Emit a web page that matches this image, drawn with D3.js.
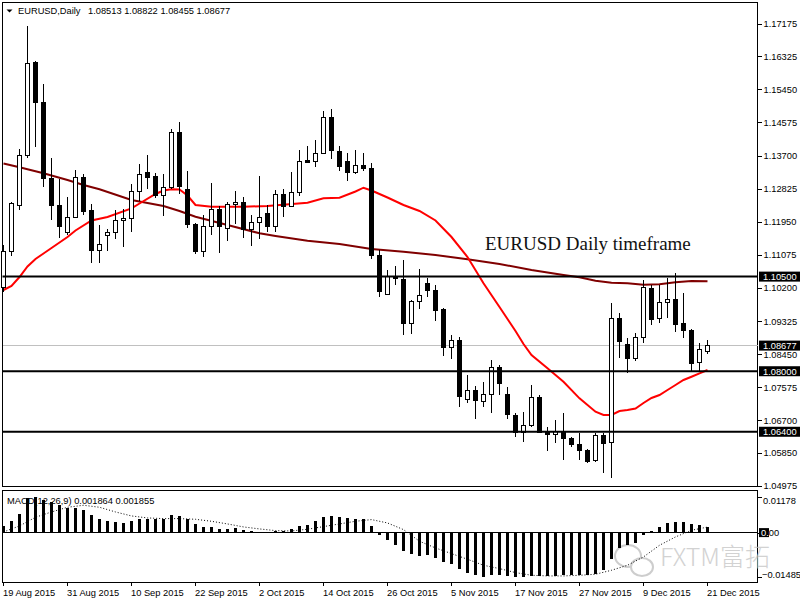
<!DOCTYPE html>
<html>
<head>
<meta charset="utf-8">
<script src="https://cdn.jsdelivr.net/npm/d3@7"></script>
<style>
body { margin: 0; background: #fff; }
svg { display: block; font-family: "Liberation Sans", Arial, sans-serif; }
</style>
</head>
<body>
<div id="chart"></div>
<script>
var tradingDays = [
  "19 Aug 2015","20 Aug 2015","21 Aug 2015","24 Aug 2015","25 Aug 2015","26 Aug 2015","27 Aug 2015","28 Aug 2015","31 Aug 2015",
  "1 Sep 2015","2 Sep 2015","3 Sep 2015","4 Sep 2015","7 Sep 2015","8 Sep 2015","9 Sep 2015","10 Sep 2015","11 Sep 2015",
  "14 Sep 2015","15 Sep 2015","16 Sep 2015","17 Sep 2015","18 Sep 2015","21 Sep 2015","22 Sep 2015","23 Sep 2015","24 Sep 2015",
  "25 Sep 2015","28 Sep 2015","29 Sep 2015","30 Sep 2015",
  "1 Oct 2015","2 Oct 2015","5 Oct 2015","6 Oct 2015","7 Oct 2015","8 Oct 2015","9 Oct 2015","12 Oct 2015","13 Oct 2015",
  "14 Oct 2015","15 Oct 2015","16 Oct 2015","19 Oct 2015","20 Oct 2015","21 Oct 2015","22 Oct 2015","23 Oct 2015","26 Oct 2015",
  "27 Oct 2015","28 Oct 2015","29 Oct 2015","30 Oct 2015",
  "2 Nov 2015","3 Nov 2015","4 Nov 2015","5 Nov 2015","6 Nov 2015","9 Nov 2015","10 Nov 2015","11 Nov 2015","12 Nov 2015",
  "13 Nov 2015","16 Nov 2015","17 Nov 2015","18 Nov 2015","19 Nov 2015","20 Nov 2015","23 Nov 2015","24 Nov 2015","25 Nov 2015",
  "26 Nov 2015","27 Nov 2015","30 Nov 2015",
  "1 Dec 2015","2 Dec 2015","3 Dec 2015","4 Dec 2015","7 Dec 2015","8 Dec 2015","9 Dec 2015","10 Dec 2015","11 Dec 2015",
  "14 Dec 2015","15 Dec 2015","16 Dec 2015","17 Dec 2015","18 Dec 2015","21 Dec 2015"
];

var openP = [1.10217,1.11158,1.12374,1.13695,1.16163,1.15106,1.13098,1.12392,1.11660,1.12067,
  1.13124,1.12234,1.11195,1.11591,1.11671,1.11977,1.12041,1.12744,1.13256,1.13158,
  1.12638,1.12860,1.14313,1.12807,1.11890,1.11158,1.11819,1.12280,1.11776,1.12411,
  1.12464,1.11732,1.11924,1.12173,1.11837,1.12675,1.12347,1.12717,1.13581,1.13536,
  1.13758,1.14710,1.13819,1.13547,1.13246,1.13449,1.13362,1.11071,1.10040,1.10498,
  1.10429,1.09248,1.09837,1.10323,1.10128,1.09618,1.08632,1.08825,1.07258,1.07485,
  1.07205,1.07390,1.08103,1.07398,1.06843,1.06394,1.06571,1.07311,1.06394,1.06333,
  1.06375,1.06227,1.06077,1.05900,1.05628,1.06307,1.06122,1.09380,1.08711,1.08341,
  1.08896,1.10191,1.09398,1.09821,1.09908,1.09266,1.09089,1.08225,1.08513];

var highP = [1.11335,1.12471,1.13872,1.17122,1.16197,1.15581,1.13626,1.13071,1.12604,1.13317,
  1.13203,1.12419,1.11856,1.11750,1.12260,1.12286,1.12947,1.13476,1.13713,1.13246,
  1.13211,1.14400,1.14593,1.13291,1.11916,1.12128,1.12966,1.12366,1.12479,1.12770,
  1.12611,1.12128,1.13158,1.12392,1.12788,1.12815,1.13256,1.13845,1.13951,1.14110,
  1.14876,1.14929,1.13951,1.13758,1.13845,1.13758,1.13494,1.11203,1.10675,1.10780,
  1.10939,1.09882,1.10693,1.10471,1.10278,1.09663,1.08957,1.08896,1.07900,1.07617,
  1.07707,1.08296,1.08156,1.07591,1.06888,1.06914,1.07628,1.07372,1.06534,1.06711,
  1.06888,1.06270,1.06375,1.05937,1.06375,1.06375,1.09795,1.09530,1.08870,1.09002,
  1.10410,1.10278,1.10278,1.10471,1.10603,1.10075,1.09108,1.08738,1.08822];

var lowP = [1.10093,1.11045,1.12260,1.13634,1.13925,1.12876,1.11996,1.11528,1.11599,1.12049,
  1.12128,1.10852,1.10867,1.11185,1.11494,1.11290,1.11687,1.12498,1.12807,1.12569,
  1.12109,1.12815,1.12675,1.11792,1.11097,1.11026,1.11599,1.11132,1.11449,1.11890,
  1.11512,1.11309,1.11486,1.11679,1.11687,1.12083,1.12331,1.12638,1.13502,1.13404,
  1.13740,1.13600,1.13298,1.13034,1.13203,1.13298,1.10965,1.09953,1.10027,1.10278,
  1.08949,1.08983,1.09636,1.09969,1.09335,1.08410,1.08315,1.07062,1.07168,1.06729,
  1.07047,1.06888,1.07372,1.06729,1.06270,1.06138,1.06534,1.06367,1.05900,1.06095,
  1.05654,1.05990,1.05654,1.05567,1.05614,1.05303,1.05186,1.08341,1.07945,1.08278,
  1.08754,1.09221,1.09266,1.09414,1.09028,1.08870,1.08014,1.08014,1.08455];

var closeP = [1.11158,1.12419,1.13713,1.16136,1.15106,1.13098,1.12374,1.11819,1.12067,1.13124,
  1.12215,1.11185,1.11354,1.11671,1.11988,1.12041,1.12744,1.13203,1.13114,1.12638,
  1.12860,1.14313,1.12876,1.11864,1.11158,1.11837,1.12280,1.11819,1.12411,1.12464,
  1.11732,1.11935,1.12067,1.11819,1.12675,1.12347,1.12728,1.13547,1.13520,1.13758,
  1.14710,1.13845,1.13404,1.13246,1.13449,1.13362,1.11045,1.10101,1.10498,1.10455,
  1.09248,1.09837,1.10006,1.10128,1.09599,1.08632,1.08825,1.07345,1.07485,1.07221,
  1.07372,1.08103,1.07681,1.06862,1.06394,1.06571,1.07311,1.06394,1.06333,1.06402,
  1.06227,1.06077,1.05900,1.05609,1.06307,1.06095,1.09380,1.08780,1.08341,1.08896,
  1.10217,1.09372,1.09821,1.09900,1.09240,1.09089,1.08209,1.08579,1.08677];

// moving averages: [bar index, price]
var maFast = [[0,1.10146],[1,1.10252],[2,1.10490],[3,1.10767],[4,1.10965],[5,1.11110],[6,1.11256],[8,1.11546],
  [9,1.11718],[11,1.11983],[13,1.12075],[16,1.12302],[17,1.12432],[19,1.12683],[20,1.12775],[21,1.12807],
  [22,1.12802],[23,1.12643],[24,1.12392],[26,1.12347],[30,1.12347],[33,1.12366],[38,1.12453],[40,1.12569],
  [42,1.12585],[44,1.12749],[45,1.12849],[46,1.12775],[48,1.12590],[50,1.12392],[52,1.12234],[54,1.11983],
  [56,1.11546],[58,1.11018],[60,1.10323],[62,1.09697],[64,1.09063],[65,1.08719],[66,1.08429],[68,1.08077],
  [70,1.07723],[72,1.07284],[74,1.06930],[75,1.06843],[76,1.06843],[77,1.06949],[78,1.06975],[79,1.07016],
  [80,1.07160],[81,1.07292],[82,1.07372],[83,1.07504],[84,1.07636],[85,1.07768],[86,1.07855],[87,1.07945],[88,1.08032]];

var maSlow = [[0,1.13489],[2,1.13388],[5,1.13230],[8,1.13053],[10,1.12921],[12,1.12807],[16,1.12524],[20,1.12366],
  [22,1.12234],[24,1.12083],[28,1.11864],[32,1.11644],[34,1.11573],[38,1.11449],[42,1.11362],[46,1.11230],
  [50,1.11158],[54,1.11071],[58,1.10957],[62,1.10833],[66,1.10675],[70,1.10542],[72,1.10482],[74,1.10392],
  [76,1.10339],[78,1.10323],[80,1.10286],[82,1.10297],[84,1.10350],[86,1.10384],[88,1.10376]];

var macdMain = [0.00223,0.00390,0.00613,0.01165,0.01178,0.01082,0.01026,0.00915,0.00825,0.00825,
  0.00747,0.00602,0.00446,0.00390,0.00357,0.00312,0.00390,0.00468,0.00468,0.00468,
  0.00468,0.00580,0.00547,0.00446,0.00279,0.00190,0.00190,0.00112,0.00112,0.00156,
  0.00078,0.00045,0.00022,0.00011,0.00056,0.00045,0.00112,0.00212,0.00268,0.00379,
  0.00513,0.00547,0.00513,0.00480,0.00446,0.00446,0.00212,-0.00089,-0.00257,-0.00424,
  -0.00613,-0.00725,-0.00792,-0.00758,-0.00848,-0.00981,-0.01060,-0.01227,-0.01350,-0.01428,
  -0.01483,-0.01428,-0.01428,-0.01450,-0.014854,-0.01484,-0.01450,-0.01450,-0.01450,-0.01450,
  -0.01428,-0.01405,-0.01405,-0.01405,-0.01372,-0.01260,-0.00892,-0.00513,-0.00424,-0.00335,
  -0.00089,0.00067,0.00201,0.00312,0.00346,0.00346,0.00279,0.00245,0.001864];

var macdSignal = [[0,0.00022],[2,0.00223],[4,0.00513],[6,0.00691],[8,0.00848],[10,0.00915],[12,0.00848],
  [14,0.00691],[16,0.00558],[18,0.00491],[20,0.00468],[22,0.00468],[24,0.00446],[26,0.00379],[28,0.00290],
  [30,0.00190],[32,0.00123],[34,0.00067],[36,0.00056],[38,0.00112],[40,0.00201],[42,0.00290],[44,0.00379],
  [46,0.00435],[48,0.00323],[50,0.00100],[52,-0.00290],[54,-0.00513],[56,-0.00703],[58,-0.00892],
  [60,-0.01093],[62,-0.01205],[64,-0.01338],[66,-0.01428],[68,-0.01450],[70,-0.01450],[72,-0.01428],
  [74,-0.01394],[76,-0.01260],[78,-0.01093],[80,-0.00814],[82,-0.00424],[84,-0.00145],[86,0.00078],[88,0.001855]];

var priceTicks = [1.17175,1.16325,1.15450,1.14575,1.13700,1.12825,1.11950,1.11075,1.10200,
  1.09325,1.08450,1.07575,1.06700,1.05850,1.04975];
var dateTicks = ["19 Aug 2015","31 Aug 2015","10 Sep 2015","22 Sep 2015","2 Oct 2015","14 Oct 2015",
  "26 Oct 2015","5 Nov 2015","17 Nov 2015","27 Nov 2015","9 Dec 2015","21 Dec 2015"];
var levels = [1.10500, 1.08000, 1.06400];
var lastPrice = 1.08677;
var macdMax = 0.01178, macdMin = -0.014854;

var width = 800, height = 600;
var panelLeft = 2.5, panelRight = 757.5;
var mainTop = 2.5, mainBottom = 486.5;
var macdTop = 490.5, macdBottom = 582;
var fmt5 = d3.format('.5f'), fmt6 = d3.format('.6f');

var svg = d3.select('#chart')
    .append('svg')
    .attr('width', width)
    .attr('height', height);

var x = d3.scaleBand()
    .domain(tradingDays)
    .range([-0.5, -0.5 + tradingDays.length * 8]);
function cx(d) { return x(d) + x.bandwidth() / 2; }

var y = d3.scaleLinear().domain([1.04954, 1.17743]).range([mainBottom, mainTop]);
var m = d3.scaleLinear().domain([-0.01653, 0.01409]).range([macdBottom, macdTop]);

var candles = tradingDays.map(function(d, i){
    return {day: d, o: openP[i], h: highP[i], l: lowP[i], c: closeP[i], macd: macdMain[i]};
});

// panel frames
svg.append('rect')
    .attr('x', panelLeft).attr('y', mainTop)
    .attr('width', panelRight - panelLeft).attr('height', mainBottom - mainTop)
    .attr('fill', 'none').attr('stroke', '#000').attr('shape-rendering', 'crispEdges');
svg.append('rect')
    .attr('x', panelLeft).attr('y', macdTop)
    .attr('width', panelRight - panelLeft).attr('height', macdBottom - macdTop)
    .attr('fill', 'none').attr('stroke', '#000').attr('shape-rendering', 'crispEdges');

// bid line
svg.append('line')
    .attr('x1', panelLeft).attr('x2', panelRight)
    .attr('y1', y(lastPrice)).attr('y2', y(lastPrice))
    .attr('stroke', '#c0c0c0').attr('shape-rendering', 'crispEdges');

// moving averages
var maLine = d3.line()
    .x(function(d){ return cx(tradingDays[d[0]]); })
    .y(function(d){ return y(d[1]); });
svg.append('path').datum(maSlow).attr('d', maLine)
    .attr('fill', 'none').attr('stroke', '#800000').attr('stroke-width', 2);
svg.append('path').datum(maFast).attr('d', maLine)
    .attr('fill', 'none').attr('stroke', '#ff0000').attr('stroke-width', 2);

// candles
var cg = svg.append('g').attr('shape-rendering', 'crispEdges');
cg.selectAll('line.wick')
    .data(candles).enter()
    .append('line').attr('class', 'wick')
    .attr('x1', function(d){ return cx(d.day); })
    .attr('x2', function(d){ return cx(d.day); })
    .attr('y1', function(d){ return y(d.h); })
    .attr('y2', function(d){ return y(d.l); })
    .attr('stroke', '#000');
cg.selectAll('rect.body')
    .data(candles).enter()
    .append('rect').attr('class', 'body')
    .attr('x', function(d){ return cx(d.day) - 2; })
    .attr('width', 4)
    .attr('y', function(d){ return y(Math.max(d.o, d.c)); })
    .attr('height', function(d){ return Math.max(1, Math.abs(y(d.o) - y(d.c))); })
    .attr('fill', function(d){ return d.c >= d.o ? '#fff' : '#000'; })
    .attr('stroke', '#000');

// horizontal levels
svg.selectAll('line.level')
    .data(levels).enter()
    .append('line').attr('class', 'level')
    .attr('x1', panelLeft).attr('x2', panelRight)
    .attr('y1', function(d){ return y(d); })
    .attr('y2', function(d){ return y(d); })
    .attr('stroke', '#000').attr('stroke-width', 2);

// annotation
svg.append('text')
    .attr('x', 485).attr('y', 250)
    .attr('font-family', '"Liberation Serif", "Times New Roman", serif')
    .attr('font-size', 19)
    .attr('fill', '#111')
    .text('EURUSD Daily timeframe');

// price axis
var yAxis = svg.append('g')
    .attr('transform', 'translate(' + panelRight + ',0)')
    .call(d3.axisRight(y).tickValues(priceTicks).tickSize(4).tickPadding(2).tickFormat(fmt5));
yAxis.select('.domain').remove();
yAxis.selectAll('text').attr('font-family', '"Liberation Sans", Arial, sans-serif').attr('font-size', 9.3).attr('fill', '#000');
yAxis.selectAll('line').attr('shape-rendering', 'crispEdges');

// boxed price labels
var boxes = svg.selectAll('g.pbox')
    .data(levels.concat([lastPrice])).enter()
    .append('g').attr('class', 'pbox')
    .attr('transform', function(d){ return 'translate(759,' + y(d) + ')'; });
boxes.append('rect')
    .attr('x', 0).attr('y', -5).attr('width', 41).attr('height', 10)
    .attr('fill', '#000');
boxes.append('text')
    .attr('x', 4).attr('y', 3.4)
    .attr('font-size', 9.3).attr('fill', '#fff')
    .text(function(d){ return fmt5(d); });

// watermark (behind the MACD marks)
var wm = svg.append('g').attr('opacity', 0.75);
wm.append('ellipse').attr('cx', 628).attr('cy', 556).attr('rx', 13).attr('ry', 11)
    .attr('fill', '#fff').attr('stroke', '#bdbdbd').attr('stroke-width', 2);
wm.append('ellipse').attr('cx', 642).attr('cy', 567).attr('rx', 11).attr('ry', 9)
    .attr('fill', '#fff').attr('stroke', '#bdbdbd').attr('stroke-width', 2);
wm.append('text')
    .attr('x', 660).attr('y', 566)
    .attr('font-family', '"Noto Sans CJK SC", "Noto Sans", sans-serif')
    .attr('font-size', 25).attr('font-weight', 300)
    .attr('fill', '#c4c4c4')
    .text('FXTM富拓');

// MACD histogram
svg.append('g').attr('shape-rendering', 'crispEdges')
    .selectAll('rect')
    .data(candles).enter()
    .append('rect')
    .attr('x', function(d){ return cx(d.day) - 1.5; })
    .attr('width', 3)
    .attr('y', function(d){ return Math.min(m(d.macd), m(0)); })
    .attr('height', function(d){ return Math.abs(m(d.macd) - m(0)); })
    .attr('fill', '#000');

svg.append('line')
    .attr('x1', panelLeft).attr('x2', panelRight)
    .attr('y1', m(0)).attr('y2', m(0))
    .attr('stroke', '#000').attr('shape-rendering', 'crispEdges');

var sigLine = d3.line()
    .x(function(d){ return cx(tradingDays[d[0]]); })
    .y(function(d){ return m(d[1]); });
svg.append('path').datum(macdSignal).attr('d', sigLine)
    .attr('fill', 'none').attr('stroke', '#000').attr('stroke-width', 1)
    .attr('stroke-dasharray', '1,2');

// MACD scale labels
var mAxis = svg.append('g')
    .attr('transform', 'translate(' + panelRight + ',0)')
    .call(d3.axisRight(m).tickValues([macdMax, 0, macdMin]).tickSize(4).tickFormat(''));
mAxis.select('.domain').remove();
mAxis.selectAll('line').attr('shape-rendering', 'crispEdges');

svg.append('text').attr('x', 763).attr('y', m(macdMax) + 7)
    .attr('font-size', 9.3).text(d3.format('.5f')(macdMax));
svg.append('text').attr('x', 762).attr('y', m(macdMin) + 1.4)
    .attr('font-size', 9.3).text(fmt6(macdMin));

var zeroY = m(0);
svg.append('text').attr('x', 761).attr('y', zeroY + 3.4)
    .attr('font-size', 9.3).attr('fill', '#000').text('0.00');
svg.append('clipPath').attr('id', 'zclip')
    .append('rect').attr('x', 759).attr('y', zeroY - 4.5).attr('width', 10).attr('height', 9);
svg.append('rect').attr('x', 759).attr('y', zeroY - 4.5).attr('width', 10).attr('height', 9).attr('fill', '#000');
svg.append('text').attr('x', 761).attr('y', zeroY + 3.4)
    .attr('clip-path', 'url(#zclip)')
    .attr('font-size', 9.3).attr('fill', '#fff').text('0.00');

svg.append('text')
    .attr('x', 7).attr('y', 503.7)
    .attr('font-size', 9.3).attr('fill', '#000')
    .text('MACD(12,26,9) ' + fmt6(macdMain[macdMain.length - 1]) + ' ' + fmt6(macdSignal[macdSignal.length - 1][1]));

// date axis
var xAxis = svg.append('g')
    .attr('transform', 'translate(0,' + macdBottom + ')')
    .call(d3.axisBottom(x).tickValues(dateTicks).tickSize(4));
xAxis.select('.domain').remove();
xAxis.selectAll('line').attr('shape-rendering', 'crispEdges');
xAxis.selectAll('text')
    .attr('text-anchor', 'start')
    .attr('x', -0.5)
    .attr('font-family', '"Liberation Sans", Arial, sans-serif')
    .attr('font-size', 9.3)
    .attr('fill', '#000');

// title
svg.append('path')
    .attr('d', d3.line()([[6.5, 9.5], [12.5, 9.5], [9.5, 12.5]]) + 'Z')
    .attr('fill', '#000');
svg.append('text')
    .attr('x', 18).attr('y', 14)
    .attr('font-size', 9.3).attr('fill', '#000')
    .text('EURUSD,Daily');
svg.append('text')
    .attr('x', 88).attr('y', 14)
    .attr('font-size', 9.3).attr('fill', '#000')
    .text([openP, highP, lowP, closeP].map(function(a){ return fmt5(a[a.length - 1]); }).join(' '));
</script>
</body>
</html>
